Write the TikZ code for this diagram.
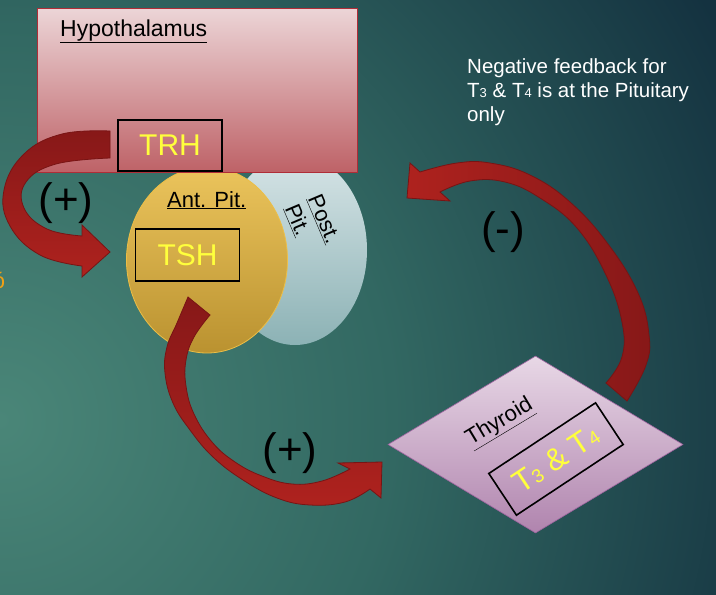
\documentclass[tikz,border=0pt]{standalone}
\usepackage{fontspec}
\setmainfont{Liberation Sans}
\usepackage{xcolor}
\usetikzlibrary{shapes.geometric}

\definecolor{bgin}{RGB}{74,134,120}
\definecolor{bgmid}{RGB}{50,104,98}
\definecolor{bgout}{RGB}{20,50,64}
\definecolor{hypotop}{RGB}{236,213,215}
\definecolor{hypobottom}{RGB}{190,98,103}
\definecolor{hypoedge}{RGB}{175,45,55}
\definecolor{anttop}{RGB}{235,196,92}
\definecolor{antbottom}{RGB}{186,146,48}
\definecolor{antedge}{RGB}{236,190,70}
\definecolor{posttop}{RGB}{214,228,230}
\definecolor{postbottom}{RGB}{140,178,181}
\definecolor{thytop}{RGB}{232,216,230}
\definecolor{thybottom}{RGB}{176,132,174}
\definecolor{thyedge}{RGB}{160,100,160}
\definecolor{hormoneyellow}{RGB}{255,255,60}
\definecolor{arrowbright}{RGB}{174,34,30}
\definecolor{arrowdark}{RGB}{135,24,24}
\definecolor{arrowedge}{RGB}{120,20,20}
\definecolor{fragorange}{RGB}{240,160,20}

\pgfdeclareradialshading{bgglow}{\pgfpoint{0bp}{0bp}}{color(0bp)=(bgin); color(12bp)=(bgmid); color(25bp)=(bgout); color(50bp)=(bgout)}

\newcommand{\tsub}[1]{{\fontsize{19}{19}\selectfont #1}}
\newcommand{\nsub}[1]{{\fontsize{13}{13}\selectfont #1}}

\tikzset{
  hormone/.style={draw=black, line width=1.6pt, text=hormoneyellow, inner sep=0pt,
    font=\fontsize{30}{30}\selectfont},
  glandlabel/.style={text=black, inner sep=0pt, font=\fontsize{22}{25}\selectfont},
  sign/.style={text=black, inner sep=0pt, font=\fontsize{44}{44}\selectfont},
  bigarrow/.style={draw=arrowedge, line width=0.8pt},
}

\begin{document}
\begin{tikzpicture}[x=1pt,y=-1pt]
	\useasboundingbox (0,0) rectangle (716,595);
	\begin{scope}
		\clip (0,0) rectangle (716,595);
		\fill[bgout] (0,0) rectangle (716,595);
		\shade[shading=bgglow] (0,420) circle (820);
	\end{scope}
	\node[font=\fontsize{22}{22}\selectfont, text=fragorange, inner sep=0pt] (frag) at (-1,281) {ó};

	% glands
	\node[ellipse, top color=posttop, bottom color=postbottom, inner sep=0pt,
		minimum width=144pt, minimum height=190pt] (postpit) at (295,250) {};
	\node[ellipse, draw=antedge, line width=0.8pt, top color=anttop, bottom color=antbottom,
		inner sep=0pt, minimum width=161pt, minimum height=186pt] (antpit) at (207,260) {};
	\node[draw=hypoedge, line width=1pt, top color=hypotop, bottom color=hypobottom,
		inner sep=0pt, minimum width=320pt, minimum height=164pt] (hypo) at (197,90) {};
	\node[diamond, draw=thyedge, line width=0.6pt, top color=thytop, bottom color=thybottom,
		inner sep=0pt, aspect=1.667, minimum width=295pt, minimum height=177pt] (thyroid) at (535.5,444.5) {};

	\node[glandlabel, anchor=base west, font=\fontsize{23}{25}\selectfont] (hypolabel) at (60,36) {\underline{Hypothalamus}};
	\node[glandlabel, anchor=base west] (antlabel) at (167,207) {\underline{Ant. Pit.}};
	\node[glandlabel, rotate=-67, align=left] (postlabel) at (312,224) {\underline{Post.}\\\underline{Pit.}};
	\node[glandlabel, rotate=31] (thylabel) at (500,423) {\underline{Thyroid}};

	\node[hormone, minimum width=104pt, minimum height=51pt] (trh) at (170,145.5) {TRH};
	\node[hormone, minimum width=104pt, minimum height=52pt] (tsh) at (187.5,255) {TSH};
	\node[hormone, rotate=33.5, minimum width=128pt, minimum height=50pt,
		font=\fontsize{31}{31}\selectfont] (t3t4) at (556,459) {T\tsub{3} \& T\tsub{4}};

	% arrows
	\shadedraw[bigarrow, top color=arrowdark, bottom color=arrowbright]
		plot[smooth, tension=0.7] coordinates {(110,131) (62,134) (24,154) (4,190) (10,226) (40,255) (82,266)}
		-- (82,277) -- (110,252) -- (82,225)
		-- plot[smooth, tension=0.7] coordinates {(82,236) (47,229) (24,208) (26,182) (56,164) (110,158)}
		-- cycle;
	\shadedraw[bigarrow, top color=arrowdark, bottom color=arrowbright]
		plot[smooth, tension=0.7] coordinates {(188,297) (177,323) (167,347) (165,373) (173,403) (190,430)
			(213,457) (243,480) (277,498) (310,505) (345,502) (370,489)}
		-- (381,498) -- (382,462) -- (338,463)
		-- plot[smooth, tension=0.7] coordinates {(350,469) (322,481) (292,484) (262,476) (235,462)
			(212,442) (194,414) (186,386) (186,360) (194,337) (210,315)}
		-- cycle;
	\shadedraw[bigarrow, left color=arrowbright, right color=arrowdark]
		plot[smooth, tension=0.7] coordinates {(627,401) (646,365) (649,335) (638,293) (608,244) (570,202)
			(530,175) (490,163) (457,163) (420,172)}
		-- (410,163) -- (407,198) -- (450,201)
		-- plot[smooth, tension=0.7] coordinates {(440,192) (470,181) (505,182) (540,198) (577,228)
			(606,275) (622,322) (622,357) (606,383)}
		-- cycle;

	\node[sign] (plusa) at (66,203) {(+)};
	\node[sign] (plusb) at (290,453) {(+)};
	\node[sign] (minus) at (503,232) {(-)};

	\node[text=white, anchor=north west, align=left, inner sep=0pt,
		font=\fontsize{20.5}{24}\selectfont] (note) at (467,58.5)
		{Negative feedback for\\T\nsub{3} \& T\nsub{4} is at the Pituitary\\only};
\end{tikzpicture}
\end{document}
